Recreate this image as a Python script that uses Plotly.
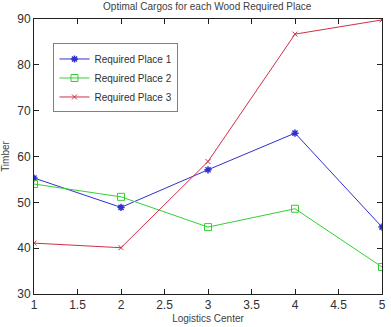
import plotly.graph_objects as go

centers = [1, 2, 3, 4, 5]
place1 = [55.3, 48.9, 57.1, 65.1, 44.6]
place2 = [54.0, 51.2, 44.6, 48.6, 35.9]
place3 = [41.1, 40.1, 58.9, 86.7, 89.8]
names = ["Required Place 1", "Required Place 2", "Required Place 3"]
x_ticks = [1, 1.5, 2, 2.5, 3, 3.5, 4, 4.5, 5]
y_ticks = [30, 40, 50, 60, 70, 80, 90]

fig = go.Figure()
fig.add_trace(go.Scatter(x=centers, y=place1, name=names[0], mode="lines+markers",
                         line=dict(color="#3030d0", width=1),
                         marker=dict(symbol="asterisk-open", size=6,
                                     line=dict(color="#1010e0", width=1.5))))
fig.add_trace(go.Scatter(x=centers, y=place2, name=names[1], mode="lines+markers",
                         line=dict(color="#33d033", width=1),
                         marker=dict(symbol="square-open", size=7, color="#33d033",
                                     line=dict(color="#33d033", width=1))))
fig.add_trace(go.Scatter(x=centers, y=place3, name=names[2], mode="lines+markers",
                         line=dict(color="#d03048", width=1),
                         marker=dict(symbol="x-thin-open", size=5,
                                     line=dict(color="#d03048", width=1))))

axis_common = dict(showgrid=False, zeroline=False, showline=True, linecolor="#202020",
                   linewidth=1, mirror="ticks", ticks="inside", ticklen=5,
                   tickcolor="#202020", tickfont=dict(size=12, color="#303030"))

fig.update_layout(
    width=391, height=327,
    margin=dict(l=30, r=5, t=19, b=28),
    paper_bgcolor="white", plot_bgcolor="white",
    font=dict(family="Liberation Sans, Arial, sans-serif", color="#303030"),
    title=dict(text="Optimal Cargos for each Wood Required Place", x=0.53, xanchor="center",
               y=0.99, yanchor="top", font=dict(size=10, color="#404040")),
    xaxis=dict(range=[1, 5], tickvals=x_ticks, ticktext=[f"{v:g}" for v in x_ticks],
               title=dict(text="Logistics Center", font=dict(size=10, color="#404040"), standoff=3),
               **axis_common),
    yaxis=dict(range=[30, 90], tickvals=y_ticks,
               title=dict(text="Timber", font=dict(size=10, color="#404040"), standoff=5),
               **axis_common),
    legend=dict(x=0.056, y=0.911, xanchor="left", yanchor="top",
                bgcolor="white", bordercolor="#808080", borderwidth=1,
                font=dict(size=10, color="#303030"), tracegroupgap=0,
                itemwidth=30),
    showlegend=True,
)

fig.write_html("out.html")
